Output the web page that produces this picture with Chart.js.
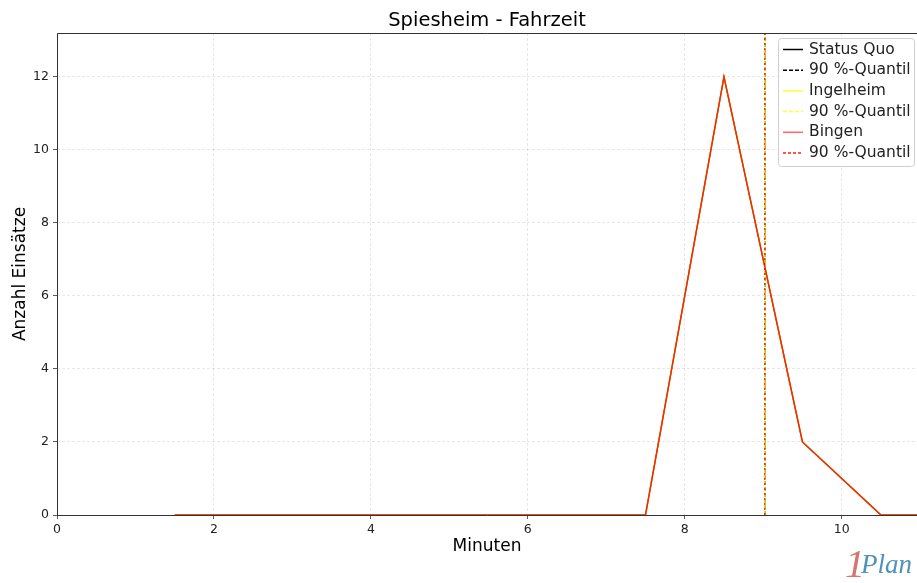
<!DOCTYPE html>
<html>
<head>
<meta charset="utf-8">
<script src="https://cdn.jsdelivr.net/npm/chart.js@4"></script>
<style>
  html, body { margin: 0; padding: 0; background: #fff; }
  #wrap { width: 917px; height: 583px; }
</style>
</head>
<body>
<div id="wrap"><canvas id="canvas" width="917" height="583"></canvas></div>
<script>
// Fahrzeit in Minuten (Klassenmitten) und Anzahl Einsaetze je Szenario
const minutes = [1.5, 2.5, 3.5, 4.5, 5.5, 6.5, 7.5, 8.5, 9.5, 10.5, 11.5];
const statusQuo = [0, 0, 0, 0, 0, 0, 0, 12, 2, 0, 0];
const ingelheim = [0, 0, 0, 0, 0, 0, 0, 12, 2, 0, 0];
const bingen = [0, 0, 0, 0, 0, 0, 0, 12, 2, 0, 0];
// 90 %-Quantile (Minuten)
const quantil = [9.02, 9.02, 9.02];
const xTicks = [0, 2, 4, 6, 8, 10];
const yTicks = [0, 2, 4, 6, 8, 10, 12];
const xMax = 10.96, yMax = 13.2;

const FONT = "'DejaVu Sans', sans-serif";

function pts(ys) {
  return minutes.map((m, i) => ({ x: m, y: ys[i] }));
}
function vline(q) {
  return [{ x: q, y: 0 }, { x: q, y: yMax }];
}

const legendItems = [
  { label: 'Status Quo', color: '#000', dash: [] },
  { label: '90 %-Quantil', color: '#000', dash: [4, 2] },
  { label: 'Ingelheim', color: 'rgba(255,255,0,0.8)', dash: [] },
  { label: '90 %-Quantil', color: 'rgba(255,255,0,0.8)', dash: [4, 2] },
  { label: 'Bingen', color: 'rgba(255,0,0,0.6)', dash: [] },
  { label: '90 %-Quantil', color: 'rgba(255,0,0,0.9)', dash: [3, 2] }
];

const extras = {
  id: 'extras',
  afterDatasetsDraw(chart) {
    const { ctx, chartArea: a } = chart;
    ctx.save();
    // frame (top, left, bottom spines)
    ctx.strokeStyle = '#333';
    ctx.lineWidth = 1;
    ctx.beginPath();
    ctx.moveTo(a.right, a.top + 0.5);
    ctx.lineTo(a.left + 0.5, a.top + 0.5);
    ctx.lineTo(a.left + 0.5, a.bottom + 0.5);
    ctx.lineTo(a.right, a.bottom + 0.5);
    ctx.stroke();

    // title, centred over the plot area
    ctx.fillStyle = '#000';
    ctx.font = '19.5px ' + FONT;
    ctx.textAlign = 'center';
    ctx.textBaseline = 'middle';
    ctx.fillText('Spiesheim - Fahrzeit', (a.left + a.right) / 2, 21);

    // legend
    const lx = 778, ly = 38, lw = 136, lh = 128;
    ctx.fillStyle = 'rgba(255,255,255,0.85)';
    ctx.strokeStyle = '#d0d0d0';
    ctx.beginPath();
    ctx.roundRect(lx + 0.5, ly + 0.5, lw, lh, 3);
    ctx.fill();
    ctx.stroke();
    ctx.font = '15.5px ' + FONT;
    ctx.textAlign = 'left';
    legendItems.forEach((it, i) => {
      const y = 49.5 + i * 20.7;
      ctx.strokeStyle = it.color;
      ctx.lineWidth = 1.5;
      ctx.setLineDash(it.dash);
      ctx.beginPath();
      ctx.moveTo(783, y);
      ctx.lineTo(803, y);
      ctx.stroke();
      ctx.setLineDash([]);
      ctx.fillStyle = '#222';
      ctx.fillText(it.label, 809, y);
    });

    // logo
    ctx.textBaseline = 'alphabetic';
    ctx.font = "italic 40px 'Liberation Serif', serif";
    ctx.fillStyle = '#d4756e';
    ctx.fillText('1', 845, 577);
    ctx.font = "italic 27px 'Liberation Serif', serif";
    ctx.fillStyle = '#4f93b8';
    ctx.fillText('Plan', 861, 573);
    ctx.restore();
  }
};

new Chart(document.getElementById('canvas'), {
  type: 'line',
  data: {
    datasets: [
      { label: 'Status Quo', data: pts(statusQuo), borderColor: '#000', borderWidth: 1.2, order: 6 },
      { label: '90 %-Quantil', data: vline(quantil[0]), borderColor: '#000', borderWidth: 1.5, borderDash: [4, 2], order: 5 },
      { label: 'Ingelheim', data: pts(ingelheim), borderColor: 'rgba(255,255,0,0.8)', borderWidth: 1.5, order: 4 },
      { label: '90 %-Quantil', data: vline(quantil[1]), borderColor: 'rgba(255,255,0,0.9)', borderWidth: 1.5, borderDash: [4, 2], order: 3 },
      { label: 'Bingen', data: pts(bingen), borderColor: 'rgba(255,0,0,0.8)', borderWidth: 1.5, order: 2 },
      { label: '90 %-Quantil', data: vline(quantil[2]), borderColor: 'rgba(255,0,0,0.8)', borderWidth: 1.5, borderDash: [2, 3], order: 1 }
    ]
  },
  options: {
    responsive: false,
    animation: false,
    events: [],
    elements: { point: { radius: 0 }, line: { tension: 0 } },
    layout: { padding: { left: 0, right: 0, top: 33, bottom: 0 } },
    plugins: {
      legend: { display: false },
      tooltip: { enabled: false },
      title: { display: false }
    },
    scales: {
      x: {
        type: 'linear',
        min: 0,
        max: xMax,
        afterBuildTicks: s => { s.ticks = xTicks.map(v => ({ value: v })); },
        afterFit: s => { s.height = 68; },
        ticks: { color: '#222', font: { family: FONT, size: 12.5 }, padding: 3, maxRotation: 0 },
        grid: { color: 'rgba(0,0,0,0.12)', tickColor: '#333', tickLength: 4, lineWidth: 0.8 },
        border: { display: false, dash: [3, 2] },
        title: { display: true, text: 'Minuten', color: '#000', font: { family: FONT, size: 17 }, padding: { top: 0, bottom: 26 } }
      },
      y: {
        type: 'linear',
        min: 0,
        max: yMax,
        afterBuildTicks: s => { s.ticks = yTicks.map(v => ({ value: v })); },
        afterFit: s => { s.width = 57; },
        ticks: { color: '#222', font: { family: FONT, size: 12.5 }, padding: 4 },
        grid: { color: 'rgba(0,0,0,0.12)', tickColor: '#333', tickLength: 4, lineWidth: 0.8 },
        border: { display: false, dash: [3, 2] },
        title: { display: true, text: 'Anzahl Einsätze', color: '#000', font: { family: FONT, size: 17 }, padding: { top: 10, bottom: 0 } }
      }
    }
  },
  plugins: [extras]
});
</script>
</body>
</html>
